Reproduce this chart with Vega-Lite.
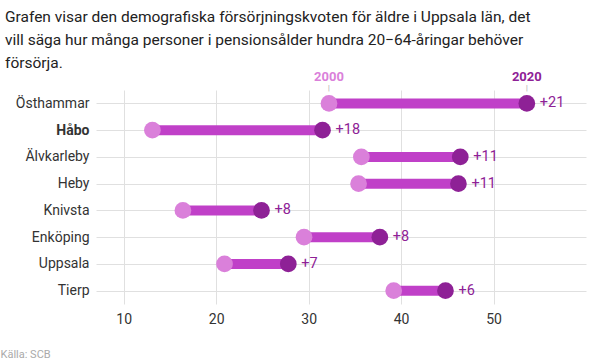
{
  "$schema": "https://vega.github.io/schema/vega-lite/v6.json",
  "width": 490,
  "height": 214,
  "autosize": {"type": "none"},
  "padding": {"left": 96, "top": 90, "right": 14, "bottom": 60},
  "background": "white",
  "config": {
    "font": "Roboto",
    "view": {"stroke": null},
    "title": {"font": "Roboto"}
  },
  "title": {
    "text": ["Grafen visar den demografiska försörjningskvoten för äldre i Uppsala län, det", "vill säga hur många personer i pensionsålder hundra 20−64-åringar behöver", "försörja."],
    "anchor": "start",
    "frame": "group",
    "dx": -91,
    "fontSize": 15.5,
    "fontWeight": "normal",
    "color": "#222222",
    "lineHeight": 23,
    "offset": 0
  },
  "data": {
    "values": [
      {"region": "Östhammar", "v2000": 32.2, "v2020": 53.6, "label": "+21"},
      {"region": "Håbo", "v2000": 13.1, "v2020": 31.5, "label": "+18"},
      {"region": "Älvkarleby", "v2000": 35.7, "v2020": 46.4, "label": "+11"},
      {"region": "Heby", "v2000": 35.4, "v2020": 46.2, "label": "+11"},
      {"region": "Knivsta", "v2000": 16.4, "v2020": 24.9, "label": "+8"},
      {"region": "Enköping", "v2000": 29.5, "v2020": 37.7, "label": "+8"},
      {"region": "Uppsala", "v2000": 20.9, "v2020": 27.8, "label": "+7"},
      {"region": "Tierp", "v2000": 39.2, "v2020": 44.8, "label": "+6"}
    ]
  },
  "encoding": {
    "y": {
      "field": "region",
      "type": "nominal",
      "sort": null,
      "scale": {"type": "point", "padding": 0.5},
      "axis": {
        "title": null,
        "domain": false,
        "ticks": false,
        "grid": true,
        "gridColor": "#e0e0e0",
        "labelFontSize": 14,
        "labelColor": "#333333",
        "labelPadding": 7,
        "labelFontWeight": {"condition": {"test": "datum.value === 'Håbo'", "value": "bold"}, "value": "normal"}
      }
    }
  },
  "layer": [
    {
      "mark": {"type": "rule", "strokeWidth": 10, "color": "#c040c8"},
      "encoding": {
        "x": {
          "field": "v2000",
          "type": "quantitative",
          "scale": {"domain": [7, 60], "nice": false, "zero": false},
          "axis": {
            "title": "Källa: SCB",
            "titleFontSize": 11,
            "titleFontWeight": "normal",
            "titleColor": "#aaaaaa",
            "titleAnchor": "start",
            "titleAlign": "left",
            "titleX": -96,
            "titleY": 44,
            "values": [10, 20, 30, 40, 50],
            "domain": false,
            "ticks": false,
            "grid": true,
            "gridColor": "#e0e0e0",
            "labelFontSize": 14,
            "labelColor": "#333333",
            "labelPadding": 8
          }
        },
        "x2": {"field": "v2020"}
      }
    },
    {
      "mark": {"type": "point", "filled": true, "size": 280, "opacity": 1, "color": "#da80da"},
      "encoding": {"x": {"field": "v2000", "type": "quantitative"}}
    },
    {
      "mark": {"type": "point", "filled": true, "size": 280, "opacity": 1, "color": "#8e2196"},
      "encoding": {"x": {"field": "v2020", "type": "quantitative"}}
    },
    {
      "mark": {"type": "text", "align": "left", "dx": 13, "fontSize": 14.5, "color": "#8e2196"},
      "encoding": {"x": {"field": "v2020", "type": "quantitative"}, "text": {"field": "label"}}
    },
    {
      "transform": [{"filter": "datum.region === 'Östhammar'"}],
      "mark": {"type": "text", "dy": -26, "fontSize": 13, "fontWeight": "bold", "color": "#da80da"},
      "encoding": {"x": {"field": "v2000", "type": "quantitative"}, "text": {"value": "2000"}}
    },
    {
      "transform": [{"filter": "datum.region === 'Östhammar'"}],
      "mark": {"type": "text", "dy": -26, "fontSize": 13, "fontWeight": "bold", "color": "#8e2196"},
      "encoding": {"x": {"field": "v2020", "type": "quantitative"}, "text": {"value": "2020"}}
    },
    {
      "transform": [{"filter": "datum.region === 'Östhammar'"}],
      "mark": {"type": "text", "dy": -15, "fontSize": 7, "color": "#999999"},
      "encoding": {"x": {"field": "v2000", "type": "quantitative"}, "text": {"value": "|"}}
    },
    {
      "transform": [{"filter": "datum.region === 'Östhammar'"}],
      "mark": {"type": "text", "dy": -15, "fontSize": 7, "color": "#999999"},
      "encoding": {"x": {"field": "v2020", "type": "quantitative"}, "text": {"value": "|"}}
    }
  ]
}
